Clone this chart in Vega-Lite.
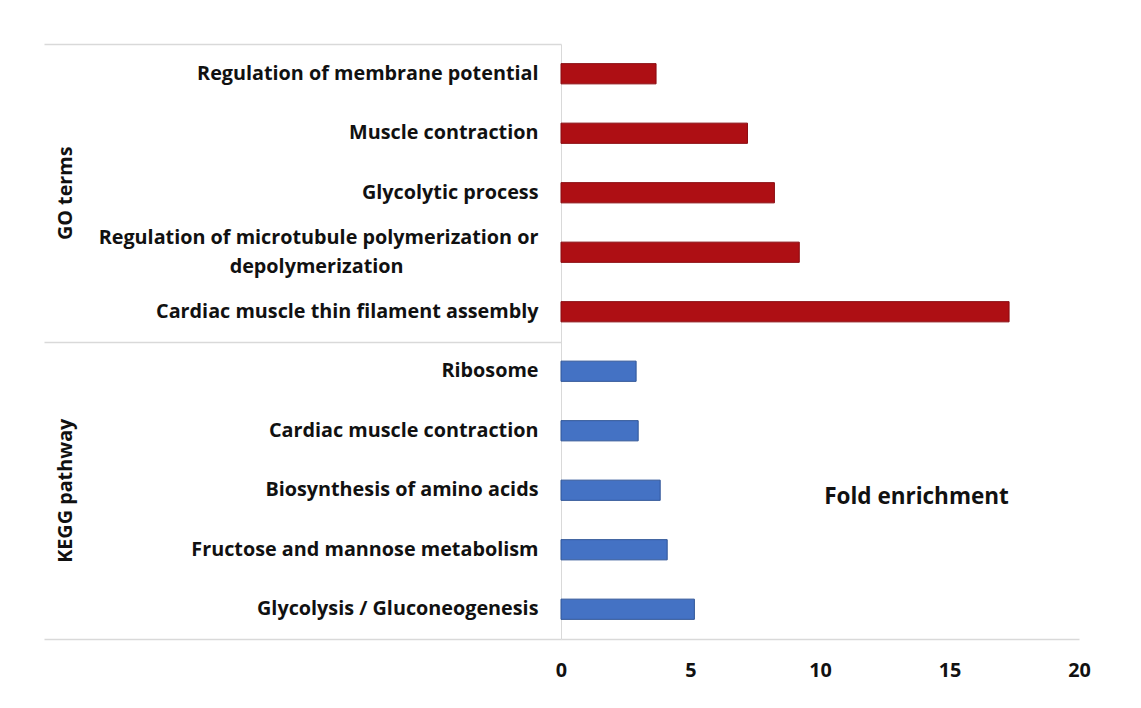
{
  "$schema": "https://vega.github.io/schema/vega-lite/v6.json",
  "autosize": {"type": "none"},
  "width": 518,
  "height": 595,
  "padding": {"left": 561, "top": 44, "right": 62, "bottom": 69},
  "background": "white",
  "config": {
    "view": {"stroke": null},
    "font": "Open Sans",
    "axis": {"labelFont": "Open Sans", "titleFont": "Open Sans"}
  },
  "data": {
    "values": [
      {"term": "Regulation of membrane potential", "group": "GO terms", "fold": 3.67},
      {"term": "Muscle contraction", "group": "GO terms", "fold": 7.2},
      {"term": "Glycolytic process", "group": "GO terms", "fold": 8.24},
      {"term": "Regulation of microtubule polymerization or depolymerization", "group": "GO terms", "fold": 9.2},
      {"term": "Cardiac muscle thin filament assembly", "group": "GO terms", "fold": 17.3},
      {"term": "Ribosome", "group": "KEGG pathway", "fold": 2.9},
      {"term": "Cardiac muscle contraction", "group": "KEGG pathway", "fold": 2.98},
      {"term": "Biosynthesis of amino acids", "group": "KEGG pathway", "fold": 3.83},
      {"term": "Fructose and mannose metabolism", "group": "KEGG pathway", "fold": 4.1},
      {"term": "Glycolysis / Gluconeogenesis", "group": "KEGG pathway", "fold": 5.15}
    ]
  },
  "layer": [
    {
      "mark": {"type": "bar", "strokeWidth": 1},
      "encoding": {
        "y": {
          "field": "term",
          "type": "nominal",
          "sort": null,
          "scale": {"paddingInner": 0.66, "paddingOuter": 0.33},
          "axis": {
            "title": null,
            "orient": "left",
            "domain": true,
            "domainColor": "#d9d9d9",
            "domainWidth": 1,
            "ticks": false,
            "labelPadding": 23,
            "labelFont": "Open Sans",
            "labelFontWeight": "bold",
            "labelFontSize": 19.8,
            "labelColor": "#111111",
            "labelLimit": 600,
            "labelLineHeight": 29,
            "labelOffset": {
              "condition": {"test": "datum.value === 'Regulation of microtubule polymerization or depolymerization'", "value": -14},
              "value": 0
            },
            "labelExpr": "datum.label === 'Regulation of microtubule polymerization or depolymerization' ? ['Regulation of microtubule polymerization or', 'depolymerization\u2800\u2800\u2800\u2800\u2800\u2800\u2800\u2800\u2800'] : datum.label"
          }
        },
        "x": {
          "field": "fold",
          "type": "quantitative",
          "scale": {"domain": [0, 20], "nice": false},
          "axis": {
            "title": "Fold enrichment",
            "titleX": 355,
            "titleY": -143,
            "titleAlign": "center",
            "titleBaseline": "middle",
            "titleFontSize": 22.5,
            "titleFontWeight": "bold",
            "titleColor": "#111111",
            "values": [0, 5, 10, 15, 20],
            "grid": false,
            "ticks": false,
            "domain": true,
            "domainColor": "#d9d9d9",
            "domainWidth": 1.5,
            "labelPadding": 21,
            "labelFontSize": 19.8,
            "labelFontWeight": "bold",
            "labelColor": "#111111",
            "labelFlush": false
          }
        },
        "color": {
          "field": "group",
          "type": "nominal",
          "scale": {"domain": ["GO terms", "KEGG pathway"], "range": ["#AE0F14", "#4472C4"]},
          "legend": null
        },
        "stroke": {
          "field": "group",
          "type": "nominal",
          "scale": {"domain": ["GO terms", "KEGG pathway"], "range": ["#8a0b10", "#2f5597"]},
          "legend": null
        }
      }
    },
    {
      "mark": {"type": "bar", "opacity": 0},
      "encoding": {
        "y": {
          "field": "group",
          "type": "nominal",
          "sort": null,
          "scale": {"paddingInner": 0, "paddingOuter": 0},
          "axis": {
            "title": null,
            "orient": "left",
            "domain": false,
            "ticks": true,
            "tickBand": "extent",
            "tickSize": 517,
            "tickWidth": 1.5,
            "tickColor": "#d9d9d9",
            "labelAngle": -90,
            "labelAlign": "center",
            "labelBaseline": "middle",
            "labelPadding": -21,
            "labelFont": "Open Sans",
            "labelFontWeight": "bold",
            "labelFontSize": 19.8,
            "labelColor": "#111111"
          }
        },
        "x": {"field": "fold", "type": "quantitative"}
      }
    }
  ],
  "resolve": {"scale": {"y": "independent", "color": "independent", "stroke": "independent"}, "axis": {"y": "independent"}}
}
